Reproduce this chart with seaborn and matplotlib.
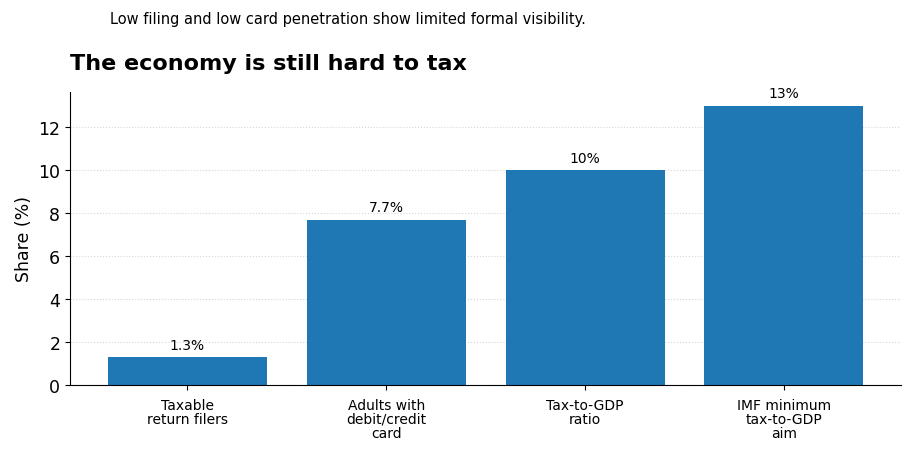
import pandas as pd
import matplotlib
matplotlib.use('Agg')
import matplotlib.pyplot as plt
import seaborn as sns

categories = [
    'Taxable\nreturn filers',
    'Adults with\ndebit/credit\ncard',
    'Tax-to-GDP\nratio',
    'IMF minimum\ntax-to-GDP\naim',
]
shares = [1.3, 7.7, 10.0, 13.0]
bar_labels = ['1.3%', '7.7%', '10%', '13%']

df = pd.DataFrame({'category': categories, 'share': shares})

sns.set_style('ticks')
plt.rcParams['font.family'] = ['DejaVu Sans']
plt.rcParams.update({
    'text.color': 'black', 'axes.labelcolor': 'black',
    'xtick.color': 'black', 'ytick.color': 'black', 'axes.edgecolor': 'black',
})

fig, ax = plt.subplots(figsize=(9.15, 4.52), dpi=100)
fig.subplots_adjust(left=0.0765, right=0.985, top=0.795, bottom=0.146)

sns.barplot(data=df, x='category', y='share', color='#1f77b4',
            saturation=1, width=0.8, linewidth=0, ax=ax)

for patch, lab in zip(ax.patches, bar_labels):
    ax.annotate(lab, xy=(patch.get_x() + patch.get_width() / 2, patch.get_height()),
                xytext=(0, 4), textcoords='offset points',
                ha='center', va='bottom', fontsize=10)

ax.set_xlim(-0.59, 3.59)
ax.set_ylim(0, 13.65)
ax.set_xlabel('')
ax.set_ylabel('Share (%)', fontsize=12.5)
ax.tick_params(axis='y', labelsize=12.5)
ax.tick_params(axis='x', labelsize=10, pad=5.5)
for t in ax.get_xticklabels():
    t.set_linespacing(1.0)
ax.yaxis.grid(True, linestyle=':', color='#cccccc', alpha=0.8)
ax.set_axisbelow(True)
sns.despine(ax=ax)

fig.text(0.0765, 0.845, 'The economy is still hard to tax', fontsize=16,
         fontweight='bold', va='baseline')
fig.text(0.12, 0.947, 'Low filing and low card penetration show limited formal visibility.',
         fontsize=10.5)

fig.savefig('out.png', dpi=100)
